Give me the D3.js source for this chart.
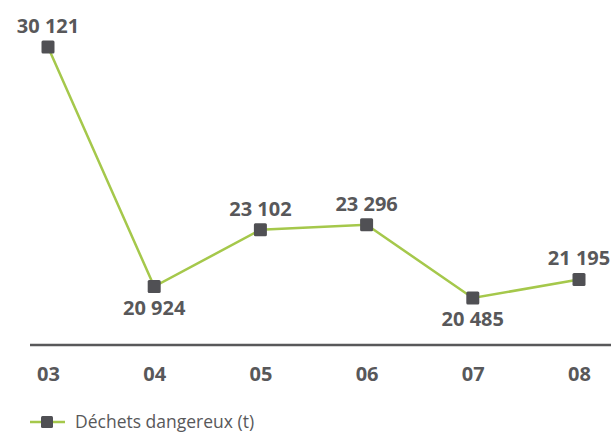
<!DOCTYPE html>
<meta charset="utf-8">
<style>
body { margin:0; background:#fff; }
text { font-family: "Open Sans", "Noto Sans", sans-serif; }
</style>
<body>
<svg width="611" height="435" id="vis"></svg>
</body>
<script src="https://d3js.org/d3.v7.min.js"></script>
<script>
var years = ["03","04","05","06","07","08"];
var values = [30121, 20924, 23102, 23296, 20485, 21195];
var labels = ["30 121","20 924","23 102","23 296","20 485","21 195"];
// label placed above (-1) or below (+1) its marker
var labelSide = [-1, 1, -1, -1, 1, -1];

var green = "#a5c84b", grey = "#505054", textGrey = "#58585a";

var svg = d3.select("svg");

var x = d3.scalePoint().domain(years).range([48, 579]);
var y = d3.scaleLinear().domain([18680, 30121]).range([345, 47]);

// baseline
svg.append("line")
    .attr("x1", 30).attr("x2", 611)
    .attr("y1", y(18680)).attr("y2", y(18680))
    .attr("stroke", "#58585a").attr("stroke-width", 2.5);

var xaxis = svg.append("g")
    .attr("transform", "translate(0," + y(18680) + ")")
    .call(d3.axisBottom(x).tickSize(0).tickPadding(22));
xaxis.select(".domain").remove();
xaxis.selectAll("text")
    .attr("font-size", 20).attr("font-weight", "bold")
    .attr("fill", textGrey)
    .style("font-family", '"Open Sans", sans-serif');

var data = years.map(function(d, i) { return {year: d, value: values[i], label: labels[i], side: labelSide[i]}; });

var line = d3.line()
    .x(function(d) { return x(d.year); })
    .y(function(d) { return y(d.value); });

svg.append("path").datum(data)
    .attr("d", line)
    .attr("fill", "none")
    .attr("stroke", green)
    .attr("stroke-width", 2.5);

svg.selectAll(".pt").data(data).enter().append("rect")
    .attr("class", "pt")
    .attr("x", function(d) { return x(d.year) - 6.5; })
    .attr("y", function(d) { return y(d.value) - 6.5; })
    .attr("width", 13).attr("height", 13)
    .attr("rx", 1.5)
    .attr("fill", grey);

svg.selectAll(".lbl").data(data).enter().append("text")
    .attr("class", "lbl")
    .attr("x", function(d) { return x(d.year); })
    .attr("y", function(d) { return y(d.value) + (d.side < 0 ? -14 : 28); })
    .attr("text-anchor", "middle")
    .attr("font-size", 20).attr("font-weight", "bold")
    .attr("fill", textGrey)
    .text(function(d) { return d.label; });

// legend
var lg = svg.append("g").attr("transform", "translate(30,422)");
lg.append("line").attr("x1", 0).attr("x2", 35).attr("y1", 0).attr("y2", 0)
    .attr("stroke", green).attr("stroke-width", 2.5);
lg.append("rect").attr("x", 11).attr("y", -6).attr("width", 12).attr("height", 12)
    .attr("rx", 1.5).attr("fill", grey);
lg.append("text").attr("x", 45).attr("y", 6)
    .attr("font-size", 17.5).attr("fill", textGrey)
    .text("Déchets dangereux (t)");
</script>
